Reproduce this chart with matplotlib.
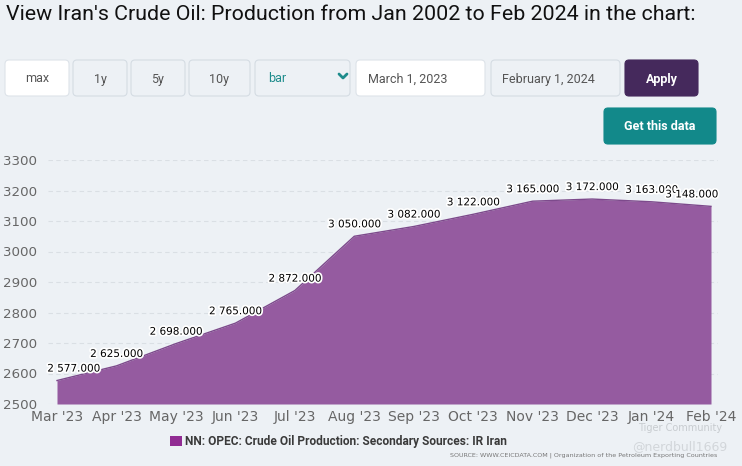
import matplotlib
matplotlib.use("Agg")
import matplotlib.pyplot as plt
from matplotlib.patches import FancyBboxPatch, Rectangle
import matplotlib.patheffects as pe

months = ["Mar '23", "Apr '23", "May '23", "Jun '23", "Jul '23", "Aug '23",
          "Sep '23", "Oct '23", "Nov '23", "Dec '23", "Jan '24", "Feb '24"]
production = [2577, 2625, 2698, 2765, 2872, 3050, 3082, 3122, 3165, 3172, 3163, 3148]
y_ticks = [2500, 2600, 2700, 2800, 2900, 3000, 3100, 3200, 3300]
series_name = "NN: OPEC: Crude Oil Production: Secondary Sources: IR Iran"
title = "View Iran's Crude Oil: Production from Jan 2002 to Feb 2024 in the chart:"

W, H = 742, 466
BG = "#EDF1F5"
FILL = "#955BA0"
EDGE = "#7D4A8C"

fig = plt.figure(figsize=(W / 100, H / 100), dpi=100, facecolor=BG)

# overlay for page UI (pixel coordinates)
ui = fig.add_axes([0, 0, 1, 1], zorder=0)
ui.set_xlim(0, W)
ui.set_ylim(H, 0)
ui.axis("off")

ui.text(6, 14, title, fontsize=15.4, family="Roboto", color="#111111", va="center", ha="left")

def button(x0, x1, y0, y1, face, edge, text=None, tcolor="#555555", ha="center",
           bold=False, tx=None, fs=9):
    p = FancyBboxPatch((x0, y0), x1 - x0, y1 - y0,
                       boxstyle="round,pad=0,rounding_size=4",
                       fc=face, ec=edge, lw=0.8)
    ui.add_patch(p)
    if text:
        if tx is None:
            tx = (x0 + x1) / 2
        ui.text(tx, (y0 + y1) / 2 + 1, text, ha=ha, va="center", color=tcolor,
                fontsize=fs, family="Roboto", fontweight="bold" if bold else "normal")

button(5, 69, 60, 96, "#FFFFFF", "#DDE3E9", "max")
button(73, 127, 60, 96, BG, "#D5DCE3", "1y")
button(131, 185, 60, 96, BG, "#D5DCE3", "5y")
button(189, 250, 60, 96, BG, "#D5DCE3", "10y")
button(255, 350, 60, 96, BG, "#D5DCE3", "bar", tcolor="#1E8C8C", ha="left", tx=268)
ui.plot([339, 343, 347], [74, 78, 74], color="#1E8C8C", lw=2.0, solid_capstyle="round",
        solid_joinstyle="round")
button(356, 485, 60, 96, "#FFFFFF", "#DDE3E9", "March 1, 2023", ha="left", tx=368)
button(491, 620, 60, 96, BG, "#D5DCE3", "February 1, 2024", ha="left", tx=502)
button(625, 698, 60, 96, "#45295C", "#45295C", "Apply", tcolor="white", bold=True)
button(604, 716, 108, 144, "#12898A", "#12898A", "Get this data", tcolor="white", bold=True)

# chart axes
x0p, x1p = 48, 718
y_top, y_bot = 160, 404
ax = fig.add_axes([x0p / W, (H - y_bot) / H, (x1p - x0p) / W, (y_bot - y_top) / H], zorder=1)
ax.set_facecolor("none")
step = (711 - 57) / 11
ax.set_xlim(-(57 - x0p) / step, 11 + (x1p - 711) / step)
ax.set_ylim(2500, 3300)

xs = list(range(len(months)))
ax.fill_between(xs, production, 2500, color=FILL, lw=0, zorder=2)
ax.plot(xs, production, color=EDGE, lw=1.0, zorder=3)

ax.set_yticks(y_ticks)
ax.set_yticklabels([str(v) for v in y_ticks])
ax.set_xticks(xs)
ax.set_xticklabels(months)
ax.tick_params(axis="x", length=0, labelsize=10, labelcolor="#666666", pad=4)
ax.tick_params(axis="y", length=0, labelsize=9.6, labelcolor="#666666", pad=8)
for lab in ax.get_yticklabels() + ax.get_xticklabels():
    lab.set_family("DejaVu Sans")
ax.grid(axis="y", color="#DADFE4", lw=0.8, ls=(0, (4, 3)), zorder=1)
for s in ax.spines.values():
    s.set_visible(False)

halo = [pe.withStroke(linewidth=2.5, foreground="white")]
for i, v in enumerate(production):
    lbl = f"{v:,}".replace(",", " ") + ".000"
    if i == 0:
        ax.annotate(lbl, (i, v), xytext=(-7, 5), textcoords="offset points", ha="left",
                    va="bottom", fontsize=7.5, color="black", path_effects=halo, zorder=4)
    elif i == len(production) - 1:
        ax.annotate(lbl, (i, v), xytext=(5, 5), textcoords="offset points", ha="right",
                    va="bottom", fontsize=7.5, color="black", path_effects=halo, zorder=4)
    else:
        ax.annotate(lbl, (i, v), xytext=(0, 5), textcoords="offset points", ha="center",
                    va="bottom", fontsize=7.5, color="black", path_effects=halo, zorder=4)

# legend
ui.add_patch(Rectangle((170, 436), 12, 10, fc="#912C93", ec="none"))
ui.text(185, 441, series_name, ha="left", va="center", fontsize=8.6, fontweight="bold",
        color="#3A3A3A", family="Roboto")
ui.text(717, 455, "SOURCE: WWW.CEICDATA.COM | Organization of the Petroleum Exporting Countries",
        ha="right", va="center", fontsize=4.6, color="#777777", family="DejaVu Sans")

# watermark
ui.text(680, 428, "Tiger Community", ha="center", va="center", fontsize=7, color="#C8CCD0",
        family="DejaVu Sans", zorder=5)
ui.text(680, 447, "@nerdbull1669", ha="center", va="center", fontsize=9, color="#D2D6DA",
        family="DejaVu Sans", zorder=5)

fig.savefig("out.png", dpi=100, facecolor=BG)
